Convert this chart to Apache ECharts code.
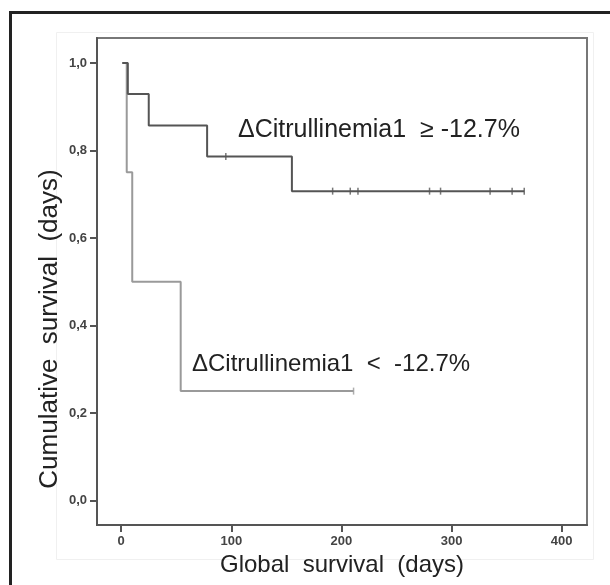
<!DOCTYPE html>
<html>
<head>
<meta charset="utf-8">
<script src="https://cdn.jsdelivr.net/npm/echarts@6/dist/echarts.min.js"></script>
<style>
  html, body { margin: 0; padding: 0; background: #fff; }
  #chart { width: 610px; height: 585px; }
</style>
</head>
<body>
<div id="chart"></div>
<script>
// Kaplan-Meier steps (days, survival)
var highTimes = [1, 6, 25, 78, 155, 366];
var highSurv = [1.0, 0.929, 0.857, 0.786, 0.707, 0.707];
var highCensored = [95, 192, 208, 215, 280, 290, 335, 355, 366];

var lowTimes = [1, 5, 10, 54, 211];
var lowSurv = [1.0, 0.75, 0.5, 0.25, 0.25];
var lowCensored = [211];

var xTicks = [0, 100, 200, 300, 400];
var yTicks = [0, 0.2, 0.4, 0.6, 0.8, 1.0];

var labelHigh = 'ΔCitrullinemia1  ≥ -12.7%';
var labelLow = 'ΔCitrullinemia1  <  -12.7%';

function pairs(xs, ys) {
  return xs.map(function (x, i) { return [x, ys[i]]; });
}
// survival value at time t for the censor marks
function survAt(xs, ys, t) {
  var v = ys[0];
  for (var i = 0; i < xs.length; i++) {
    if (xs[i] <= t) v = ys[i];
  }
  return v;
}
function censorPts(xs, ys, cs) {
  return cs.map(function (t) { return [t, survAt(xs, ys, t)]; });
}

var font = '"Liberation Sans", Arial, sans-serif';
var tickFont = '"Liberation Sans Narrow", "Liberation Sans", Arial, sans-serif';

var chart = echarts.init(document.getElementById('chart'));
chart.setOption({
  backgroundColor: '#fff',
  animation: false,
  grid: {
    left: 97, right: 23, top: 38, bottom: 60,
    show: true, borderColor: '#777', borderWidth: 2,
    containLabel: false, outerBoundsMode: 'none'
  },
  xAxis: {
    type: 'value', min: -22, max: 423,
    splitLine: { show: false },
    axisLine: { onZero: false, lineStyle: { color: '#555', width: 2 } },
    axisTick: { length: 7, customValues: xTicks, lineStyle: { color: '#555', width: 2 } },
    axisLabel: { customValues: xTicks, margin: 10, color: '#444', fontSize: 13, fontWeight: 'bold', fontFamily: tickFont },
    name: 'Global  survival  (days)',
    nameLocation: 'middle', nameGap: 22,
    nameTextStyle: { fontSize: 24, color: '#222', fontFamily: font }
  },
  yAxis: {
    type: 'value', min: -0.056, max: 1.057,
    splitLine: { show: false },
    axisLine: { onZero: false, lineStyle: { color: '#555', width: 2 } },
    axisTick: { length: 7, customValues: yTicks, lineStyle: { color: '#555', width: 2 } },
    axisLabel: {
      customValues: yTicks, margin: 10, color: '#444', fontSize: 13, fontWeight: 'bold', fontFamily: tickFont,
      formatter: function (v) { return v.toFixed(1).replace('.', ','); }
    }
  },
  graphic: [
    { type: 'rect', silent: true, z: -1,
      shape: { x: 10.5, y: 12.5, width: 700, height: 700 },
      style: { fill: 'none', stroke: '#222', lineWidth: 3 } },
    { type: 'rect', silent: true, z: -1,
      shape: { x: 56.5, y: 32.5, width: 537, height: 527 },
      style: { fill: 'none', stroke: '#f0f0f0', lineWidth: 1 } },
    { type: 'text', x: 50, y: 329, rotation: Math.PI / 2,
      style: { text: 'Cumulative  survival  (days)', font: '26px ' + font, fill: '#222',
               textAlign: 'center', textVerticalAlign: 'middle' } },
    { type: 'text', x: 238, y: 130,
      style: { text: labelHigh, font: '25px ' + font, fill: '#222',
               textAlign: 'left', textVerticalAlign: 'middle' } },
    { type: 'text', x: 192, y: 364,
      style: { text: labelLow, font: '24px ' + font, fill: '#222',
               textAlign: 'left', textVerticalAlign: 'middle' } }
  ],
  series: [
    { type: 'line', step: 'end', data: pairs(lowTimes, lowSurv), showSymbol: false,
      lineStyle: { color: '#9a9a9a', width: 2 }, z: 2 },
    { type: 'scatter', data: censorPts(lowTimes, lowSurv, lowCensored),
      symbol: 'rect', symbolSize: [1.5, 7], itemStyle: { color: '#9a9a9a' }, z: 2 },
    { type: 'line', step: 'end', data: pairs(highTimes, highSurv), showSymbol: false,
      lineStyle: { color: '#555', width: 2 }, z: 3 },
    { type: 'scatter', data: censorPts(highTimes, highSurv, highCensored),
      symbol: 'rect', symbolSize: [1.5, 7], itemStyle: { color: '#555' }, z: 3 }
  ]
});
</script>
</body>
</html>
